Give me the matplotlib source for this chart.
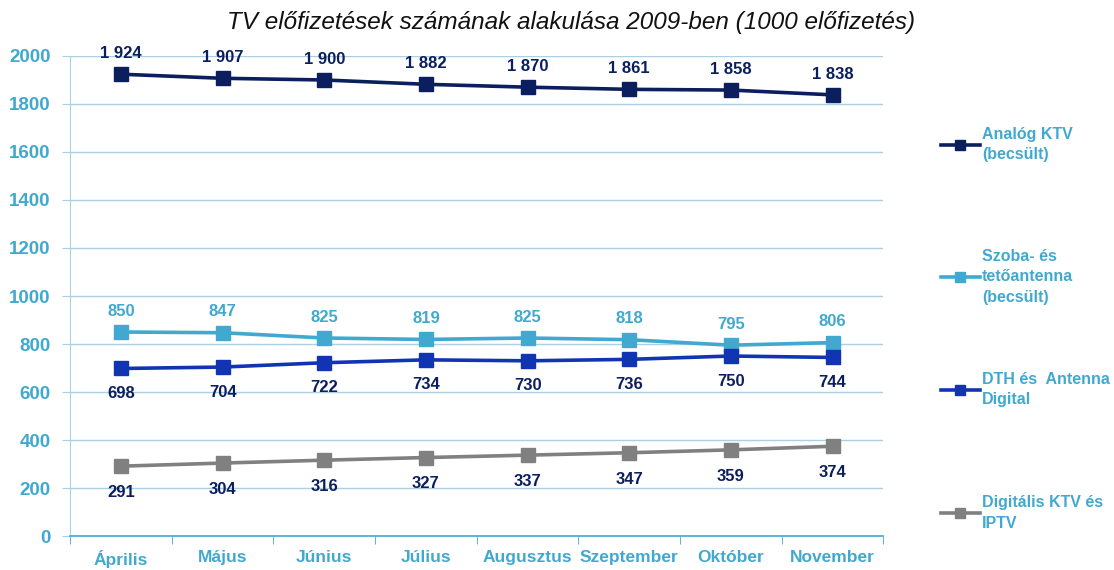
import numpy as np
import matplotlib.pyplot as plt
from matplotlib.lines import Line2D

plt.rcParams['font.family'] = ['Liberation Sans', 'DejaVu Sans']

months = ['Április', 'Május', 'Június', 'Július', 'Augusztus', 'Szeptember', 'Október', 'November']
analog = [1924, 1907, 1900, 1882, 1870, 1861, 1858, 1838]
szoba = [850, 847, 825, 819, 825, 818, 795, 806]
dth = [698, 704, 722, 734, 730, 736, 750, 744]
digital = [291, 304, 316, 327, 337, 347, 359, 374]

names = ['Analóg KTV\n(becsült)', 'Szoba- és\ntetőantenna\n(becsült)',
         'DTH és  Antenna\nDigital', 'Digitális KTV és\nIPTV']
colors = ['#0b1f5e', '#41a9d0', '#1135b2', '#808080']
label_colors = ['#0b1f5e', '#41a9d0', '#0b1f5e', '#0b1f5e']
label_offsets = [15, 15, -18, -19]
legend_y = [0.778, 0.563, 0.348, 0.131]

axis_blue = '#41a9d0'
grid_blue = '#a9d1e3'

fig = plt.figure(figsize=(11.14, 5.70), dpi=100)
ax = fig.add_axes([0.063, 0.0596, 0.730, 0.8422])

x = np.arange(len(months))
series = [analog, szoba, dth, digital]
for vals, name, c, lc, off, ly in zip(series, names, colors, label_colors, label_offsets, legend_y):
    ax.plot(x, vals, color=c, lw=2.6, marker='s', ms=9.5, zorder=3)
    for xi, v in zip(x, vals):
        txt = f'{v:,}'.replace(',', ' ')
        ax.annotate(txt, (xi, v), xytext=(0, off), textcoords='offset points',
                    ha='center', va='center', fontsize=12, fontweight='bold', color=lc)
    h = Line2D([], [], color=c, lw=2.6, marker='s', ms=7)
    leg = fig.legend([h], [name], loc='upper left', bbox_to_anchor=(0.845, ly),
                     frameon=False, handlelength=2.4, handletextpad=0.15,
                     prop=dict(size=11.5, weight='bold'), labelcolor=axis_blue,
                     borderaxespad=0, borderpad=0)
    for t in leg.get_texts():
        t.set_linespacing(1.45)

ax.set_xlim(-0.5, len(months) - 0.5)
ax.set_ylim(0, 2000)
ax.set_yticks(np.arange(0, 2001, 200))
ax.set_xticks(x)
ax.set_xticklabels(months)
ax.set_xticks(np.arange(-0.5, len(months), 1), minor=True)
ax.tick_params(axis='x', which='major', length=0, pad=10, labelsize=12.5, labelcolor=axis_blue)
ax.tick_params(axis='x', which='minor', length=6, color=axis_blue, direction='out')
ax.tick_params(axis='y', length=6, color=grid_blue, labelsize=13.5, labelcolor=axis_blue, pad=8)
for lab in ax.get_xticklabels() + ax.get_yticklabels():
    lab.set_fontweight('bold')

ax.grid(axis='y', color=grid_blue, lw=1)
ax.set_axisbelow(True)
for s in ['top', 'right']:
    ax.spines[s].set_visible(False)
ax.spines['left'].set_color(grid_blue)
ax.spines['bottom'].set_color(axis_blue)
ax.spines['bottom'].set_linewidth(1.2)

fig.text(0.513, 0.961, 'TV előfizetések számának alakulása 2009-ben (1000 előfizetés)',
         ha='center', va='center', fontsize=17.5, style='italic', color='#111111')

fig.savefig('out.png', dpi=100)
